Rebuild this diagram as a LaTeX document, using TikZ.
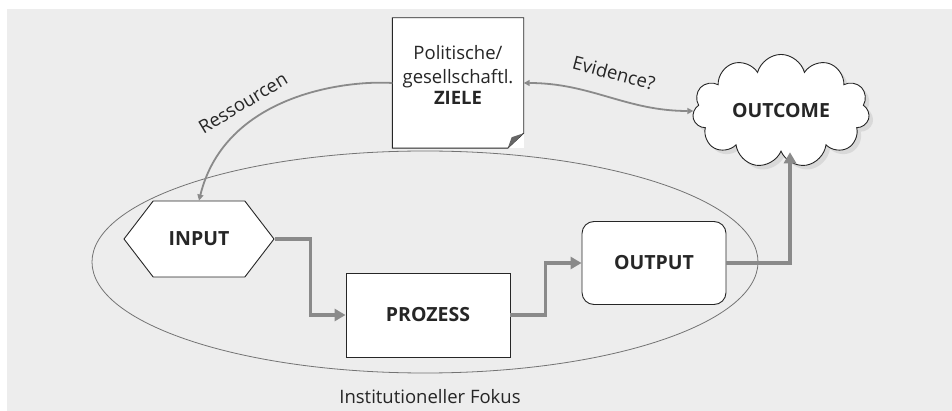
\documentclass[tikz,border=0pt]{standalone}
\usepackage{fontspec}
\setmainfont{Open Sans}
\usetikzlibrary{shapes.symbols,shadows,arrows.meta}
\definecolor{bggray}{HTML}{EDEDED}
\definecolor{linegray}{HTML}{8A8A8A}

\begin{document}
\begin{tikzpicture}[x=1pt,y=-1pt]
\tikzstyle{every node}=[font=\fontsize{18.5}{24}\selectfont, text=black!85]
\tikzstyle{box}=[draw=black!85, fill=white, line width=0.9pt, inner sep=0pt, font=\fontsize{19.5}{24}\selectfont\bfseries]
\tikzstyle{flow}=[draw=linegray, line width=3.5pt, -{Triangle[length=11pt,width=12pt]}]
\tikzstyle{link}=[draw=linegray, line width=1.8pt]
\useasboundingbox (0,0) rectangle (952,411);
\fill[bggray] (7,9) rectangle (952,411);
% Fokus-Ellipse
\draw[black!55, line width=0.8pt] (425,262) ellipse [x radius=333, y radius=111];
\node (fokus) at (430,397) {Institutioneller Fokus};
% Knoten
\node[box, signal, signal to=west and east, signal pointer angle=105, minimum width=150pt, minimum height=76pt] (input) at (199,239) {INPUT};
\node[box, minimum width=164pt, minimum height=84pt] (prozess) at (428,315) {PROZESS};
\node[box, rounded corners=12pt, minimum width=144pt, minimum height=83pt] (output) at (654,263) {OUTPUT};
\node[box, cloud, cloud puffs=11, aspect=1.6, minimum width=177pt, minimum height=113pt, drop shadow={shadow xshift=4pt, shadow yshift=-4pt, fill=black!22}] (outcome) at (781,111) {OUTCOME};
\node[fill=white, inner sep=0pt, minimum width=131pt, minimum height=130pt, align=center] (ziele) at (458,83) {Politische/\\gesellschaftl.\\[-3pt]\textbf{ZIELE}\\[-8pt]\mbox{}};
\draw[black!85, line width=0.9pt] (ziele.north west) -- (ziele.north east) -- ([yshift=15pt]ziele.south east) -- ([xshift=-16pt]ziele.south east) -- (ziele.south west) -- cycle;
\fill[black!60] ([yshift=15pt]ziele.south east) -- ([xshift=-16pt]ziele.south east) -- ([xshift=-12pt,yshift=11pt]ziele.south east) -- cycle;
% Verbindungen
\draw[flow] (input.east) -- ++(36,0) |- (prozess.west);
\draw[flow] (prozess.east) -- ++(35,0) |- (output.west);
\draw[flow] (output.east) -| ([xshift=9pt]outcome.south);
\draw[link, -{Triangle[length=6pt,width=6pt]}] (ziele.west) .. controls (345,80) and (225,95) .. (input.north);
\node[rotate=31] (ressourcen) at (243,103) {Ressourcen};
\draw[link, {Triangle[length=6pt,width=6pt]}-{Triangle[length=6pt,width=6pt]}] (ziele.east) to[out=0, in=180] (outcome.west);
\node[rotate=-15] (evidence) at (614,73) {Evidence?};
\end{tikzpicture}
\end{document}
